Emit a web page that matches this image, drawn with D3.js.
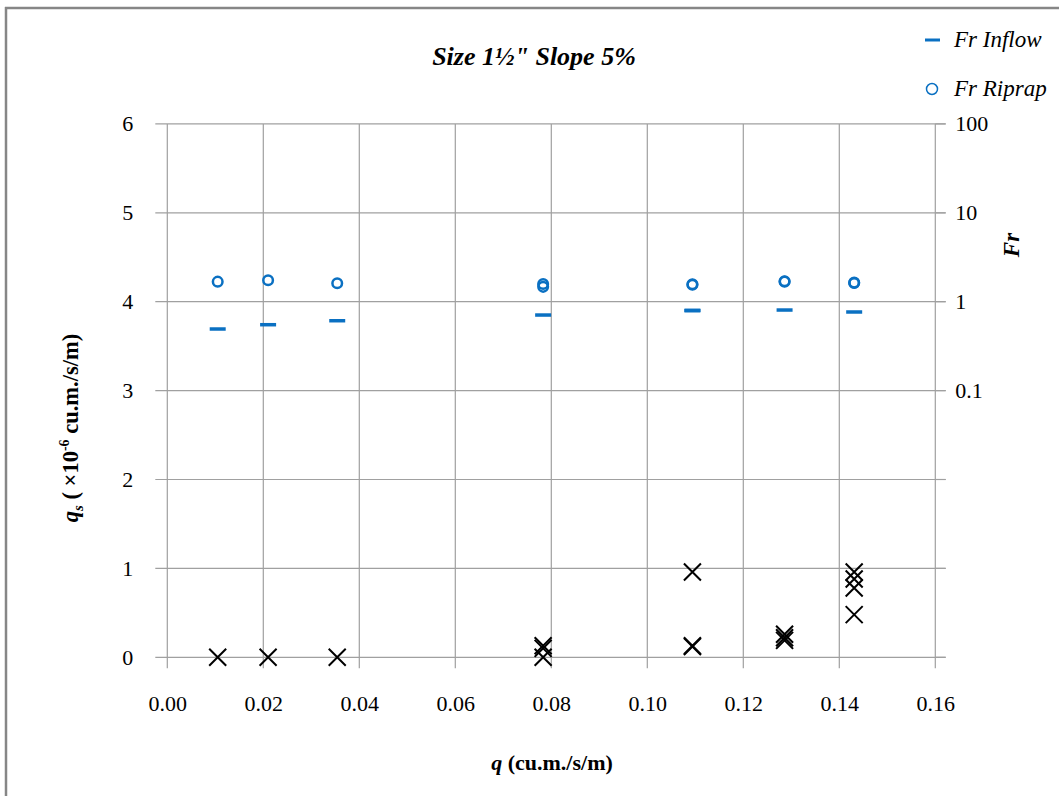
<!DOCTYPE html>
<html>
<head>
<meta charset="utf-8">
<script src="https://cdn.jsdelivr.net/npm/d3@7/dist/d3.min.js"></script>
<style>
  html, body { margin: 0; padding: 0; background: #fff; }
  svg { display: block; }
  text { font-family: "Liberation Serif", "Times New Roman", serif; fill: #000; }
</style>
</head>
<body>
<svg id="chart" width="1059" height="796"></svg>
<script>
// ---- data ----
const qRiprap  = [0.0105, 0.0210, 0.0354, 0.0783, 0.0783, 0.1094, 0.1094, 0.1286, 0.1286, 0.1431, 0.1431];
const frRiprap = [1.68,   1.74,   1.61,   1.58,   1.47,   1.57,   1.55,   1.68,   1.70,   1.62,   1.64];

const qInflow  = [0.0105, 0.0210, 0.0354, 0.0783, 0.1094, 0.1094, 0.1286, 0.1431];
const frInflow = [0.493,  0.551,  0.611,  0.708,  0.792,  0.800,  0.806,  0.766];

const qSed  = [0.0105, 0.0210, 0.0354, 0.0783, 0.0783, 0.0783, 0.1094, 0.1094, 0.1094, 0.1286, 0.1286, 0.1286, 0.1431, 0.1431, 0.1431, 0.1431];
const qsSed = [0.00,   0.00,   0.00,   0.13,   0.10,   0.00,   0.96,   0.13,   0.12,   0.26,   0.22,   0.19,   0.96,   0.88,   0.78,   0.48];

const xTicks  = [0, 0.02, 0.04, 0.06, 0.08, 0.10, 0.12, 0.14, 0.16];
const yTicks  = [0, 1, 2, 3, 4, 5, 6];
const frTicks = [0.0001, 0.001, 0.01, 0.1, 1, 10, 100];
const frLabelTicks = [0.1, 1, 10, 100];

const titleText = "Size 1\u00BD\" Slope 5%";
const legendNames = ["Fr Inflow", "Fr Riprap"];

// ---- drawing ----
const svg = d3.select("#chart");
const blue = "#0a70c2";
const gridColor = "#a0a0a0";

const x = d3.scaleLinear().domain([0, 0.16]).range([167.3, 935.3]);
const y = d3.scaleLinear().domain([0, 6]).range([657.3, 123.9]);
const yFr = d3.scaleLog().domain([1e-4, 100]).range([657.3, 123.9]);

// outer frame
svg.append("line").attr("x1", 5).attr("x2", 1059).attr("y1", 8).attr("y2", 8)
  .attr("stroke", "#868686").attr("stroke-width", 2.5);
svg.append("line").attr("x1", 6).attr("x2", 6).attr("y1", 7).attr("y2", 796)
  .attr("stroke", "#868686").attr("stroke-width", 2.5);

// grid
const grid = svg.append("g");
grid.selectAll(".h").data(yTicks).join("line")
  .attr("x1", x(0) - 12).attr("x2", x(0.16) + 10.4)
  .attr("y1", d => y(d)).attr("y2", d => y(d))
  .attr("stroke", gridColor).attr("stroke-width", 1.2);
grid.selectAll(".v").data(xTicks).join("line")
  .attr("x1", d => x(d)).attr("x2", d => x(d))
  .attr("y1", y(6)).attr("y2", y(0) + 11)
  .attr("stroke", gridColor).attr("stroke-width", 1.2);
// right log ticks
grid.selectAll(".r").data(frTicks).join("line")
  .attr("x1", x(0.16)).attr("x2", x(0.16) + 10.4)
  .attr("y1", d => yFr(d)).attr("y2", d => yFr(d))
  .attr("stroke", gridColor).attr("stroke-width", 1.2);

// axes labels
const axL = svg.append("g").attr("transform", `translate(${x(0)},0)`)
  .call(d3.axisLeft(y).tickValues(yTicks).tickSize(0).tickPadding(34).tickFormat(d3.format("d")));
const axB = svg.append("g").attr("transform", `translate(0,${y(0)})`)
  .call(d3.axisBottom(x).tickValues(xTicks).tickSize(0).tickPadding(38).tickFormat(d3.format(".2f")));
const axR = svg.append("g").attr("transform", `translate(${x(0.16)},0)`)
  .call(d3.axisRight(yFr).tickValues(frLabelTicks).tickSize(0).tickPadding(20).tickFormat(d3.format("~g")));
[axL, axB, axR].forEach(a => {
  a.select(".domain").remove();
  a.selectAll("text").style("font-family", '"Liberation Serif", "Times New Roman", serif')
    .style("font-size", "22px").attr("fill", "#000");
});

// marks: sediment crosses
svg.append("g").selectAll("path").data(qSed.map((q, i) => [q, qsSed[i]])).join("path")
  .attr("transform", d => `translate(${x(d[0])},${y(d[1])})`)
  .attr("d", "M-8.5,-8.5L8.5,8.5M-8.5,8.5L8.5,-8.5")
  .attr("stroke", "#000").attr("stroke-width", 2).attr("fill", "none");

// Fr inflow dashes
svg.append("g").selectAll("line").data(qInflow.map((q, i) => [q, frInflow[i]])).join("line")
  .attr("x1", d => x(d[0]) - 8).attr("x2", d => x(d[0]) + 8)
  .attr("y1", d => yFr(d[1])).attr("y2", d => yFr(d[1]))
  .attr("stroke", blue).attr("stroke-width", 3.5);

// Fr riprap circles
svg.append("g").selectAll("circle").data(qRiprap.map((q, i) => [q, frRiprap[i]])).join("circle")
  .attr("cx", d => x(d[0])).attr("cy", d => yFr(d[1])).attr("r", 4.8)
  .attr("fill", "none").attr("stroke", blue).attr("stroke-width", 2.5);

// title
svg.append("text").attr("x", 534).attr("y", 65).attr("text-anchor", "middle")
  .style("font-size", "26px").style("font-weight", "bold").style("font-style", "italic")
  .text(titleText);

// legend
const lg = svg.append("g");
lg.append("line").attr("x1", 925).attr("x2", 940).attr("y1", 40).attr("y2", 40)
  .attr("stroke", blue).attr("stroke-width", 3);
lg.append("text").attr("x", 954).attr("y", 47).style("font-size", "23px").style("font-style", "italic")
  .text(legendNames[0]);
lg.append("circle").attr("cx", 932).attr("cy", 89).attr("r", 5.5)
  .attr("fill", "none").attr("stroke", blue).attr("stroke-width", 1.5);
lg.append("text").attr("x", 954).attr("y", 96).style("font-size", "23px").style("font-style", "italic")
  .text(legendNames[1]);

// y-axis title
const yt = svg.append("text").attr("transform", "translate(78,428) rotate(-90)")
  .attr("text-anchor", "middle").style("font-size", "22.5px").style("font-weight", "bold");
yt.append("tspan").style("font-style", "italic").text("q");
yt.append("tspan").style("font-style", "italic").style("font-size", "15px").attr("dy", 5).text("s");
yt.append("tspan").attr("dy", -5).text(" ( \u00D710");
yt.append("tspan").style("font-size", "14px").attr("dy", -9).text("-6");
yt.append("tspan").attr("dy", 9).text(" cu.m./s/m)");

// right title
svg.append("text").attr("transform", "translate(1019,245) rotate(-90)")
  .attr("text-anchor", "middle").style("font-size", "23px").style("font-weight", "bold").style("font-style", "italic")
  .text("Fr");

// x-axis title
const xt = svg.append("text").attr("x", 552).attr("y", 770).attr("text-anchor", "middle")
  .style("font-size", "22px").style("font-weight", "bold");
xt.append("tspan").style("font-style", "italic").text("q");
xt.append("tspan").text(" (cu.m./s/m)");
</script>
</body>
</html>
